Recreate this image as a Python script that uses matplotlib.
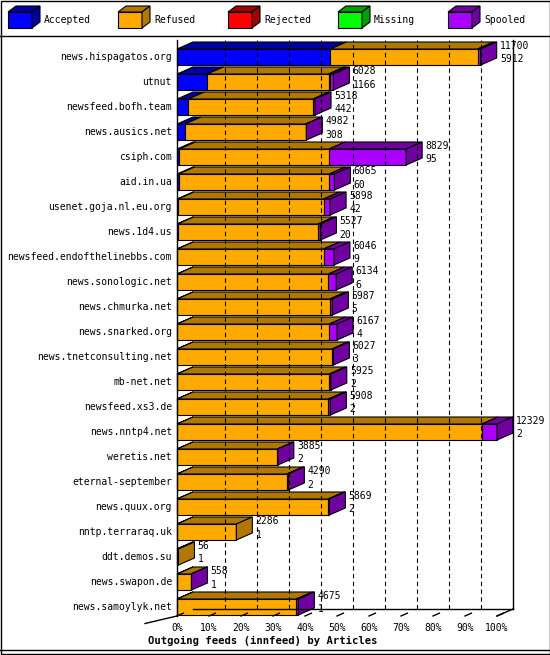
import matplotlib
matplotlib.use("Agg")
import matplotlib.pyplot as plt
from matplotlib.patches import Polygon, Rectangle

feeds = ["news.hispagatos.org","utnut","newsfeed.bofh.team","news.ausics.net","csiph.com",
         "aid.in.ua","usenet.goja.nl.eu.org","news.1d4.us","newsfeed.endofthelinebbs.com",
         "news.sonologic.net","news.chmurka.net","news.snarked.org","news.tnetconsulting.net",
         "mb-net.net","newsfeed.xs3.de","news.nntp4.net","weretis.net","eternal-september",
         "news.quux.org","nntp.terraraq.uk","ddt.demos.su","news.swapon.de","news.samoylyk.net"]
offered  = [11700,6028,5318,4982,8829,6065,5898,5527,6046,6134,5987,6167,6027,5925,5908,12329,
            3885,4290,5869,2286,56,558,4675]
accepted = [5912,1166,442,308,95,60,42,20,9,6,5,4,3,2,2,2,2,2,2,1,1,1,1]
rejected = [0,40,0,0,0,0,0,0,0,0,0,0,0,0,0,0,0,0,0,0,0,0,0]
missing  = [0]*23
spooled  = [120,150,80,30,2970,200,250,100,400,300,100,300,60,60,80,580,20,60,50,0,0,20,80]
series = ["Accepted","Refused","Rejected","Missing","Spooled"]
colors = ["#0000ff","#ffaa00","#ff0000","#00ff00","#aa00ff"]
dark   = ["#0000a0","#b07800","#a00000","#00a000","#7000a0"]
ticks = ["0%","10%","20%","30%","40%","50%","60%","70%","80%","90%","100%"]

W, H = 550, 655
fig = plt.figure(figsize=(W/100, H/100), dpi=100)
ax = fig.add_axes([0, 0, 1, 1])
X0, SX, Y0, SY = 177, 3.2, 57, 25
ax.set_xlim((0 - X0) / SX, (W - X0) / SX)
ax.set_ylim((H - Y0) / SY, (0 - Y0) / SY)
ax.axis("off")
def px(x): return (x - X0) / SX
def py(y): return (y - Y0) / SY

mono = "DejaVu Sans Mono"
fs = 7.0
DX, DY = 5.0, 0.28
HH = 0.32
vmax = max(offered)

ax.add_patch(Rectangle((px(0.5), py(0.5)), px(549.5)-px(0.5), py(654.5)-py(0.5), fill=False, lw=1, color="black"))
ax.plot([px(0), px(550)], [py(36), py(36)], color="black", lw=1)
ax.plot([px(0), px(550)], [py(650), py(650)], color="black", lw=1)

for k, (s, c, d) in enumerate(zip(series, colors, dark)):
    lx = 8 + k * 110
    ax.add_patch(Polygon([(px(lx), py(28)), (px(lx+24), py(28)), (px(lx+24), py(12)), (px(lx), py(12))], fc=c, ec="black", lw=0.8))
    ax.add_patch(Polygon([(px(lx), py(12)), (px(lx+24), py(12)), (px(lx+32), py(6)), (px(lx+8), py(6))], fc=d, ec="black", lw=0.8))
    ax.add_patch(Polygon([(px(lx+24), py(28)), (px(lx+32), py(22)), (px(lx+32), py(6)), (px(lx+24), py(12))], fc=d, ec="black", lw=0.8))
    ax.text(px(lx+36), py(20), s, fontsize=fs, family=mono, va="center", ha="left")

n = len(feeds)
bottom = py(616)
for t in range(1, 10):
    ax.plot([t*10 + DX, t*10 + DX], [bottom - DY, py(40)], color="black", lw=0.8, ls=(0, (4, 3)))
ax.plot([0, 0], [bottom, py(40)], color="black", lw=1)
ax.plot([100 + DX, 100 + DX], [bottom - DY, py(40)], color="black", lw=1)
ax.plot([DX, 100 + DX], [bottom - DY, bottom - DY], color="black", lw=1)
ax.plot([px(145), 0], [bottom + 0.3, bottom], color="black", lw=1)
ax.plot([100, 100 + DX], [bottom, bottom - DY], color="black", lw=1)
for t in range(11):
    ax.plot([t*10, t*10 + DX*0.4], [bottom, bottom - DY*0.4], color="black", lw=1)
    ax.text(t*10, py(628), ticks[t], fontsize=fs, family=mono, ha="center", va="center")
ax.text(px(148), py(641), "Outgoing feeds (innfeed) by Articles", fontsize=7.6, family=mono,
        weight="bold", ha="left", va="center")

for i in range(n):
    refused = offered[i] - accepted[i] - rejected[i] - missing[i] - spooled[i]
    vals = [accepted[i], refused, rejected[i], missing[i], spooled[i]]
    x = 0.0
    last = 1
    for k, v in enumerate(vals):
        w = v / vmax * 100
        if w <= 0:
            continue
        ax.add_patch(Polygon([(x, i + HH), (x + w, i + HH), (x + w, i - HH), (x, i - HH)],
                             fc=colors[k], ec="black", lw=0.8))
        ax.add_patch(Polygon([(x, i - HH), (x + w, i - HH), (x + w + DX, i - HH - DY), (x + DX, i - HH - DY)],
                             fc=dark[k], ec="black", lw=0.8))
        x += w
        last = k
    ax.add_patch(Polygon([(x, i + HH), (x + DX, i + HH - DY), (x + DX, i - HH - DY), (x, i - HH)],
                         fc=dark[last], ec="black", lw=0.8))
    ax.text(x + DX + 1, i - 0.45, str(offered[i]), fontsize=fs, family=mono, ha="left", va="center")
    ax.text(x + DX + 1, i + 0.1, str(accepted[i]), fontsize=fs, family=mono, ha="left", va="center")
    ax.text(px(172), i, feeds[i], fontsize=fs, family=mono, ha="right", va="center")

fig.savefig("out.png", dpi=100)
